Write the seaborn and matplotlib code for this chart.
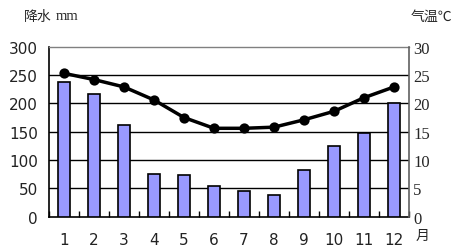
import numpy as np
import pandas as pd
import matplotlib
matplotlib.use("Agg")
import matplotlib.pyplot as plt
import seaborn as sns

months = ["1", "2", "3", "4", "5", "6", "7", "8", "9", "10", "11", "12"]
precip = [238, 217, 161, 76, 74, 55, 45, 39, 82, 124, 147, 201]
temp = [25.3, 24.2, 22.9, 20.6, 17.5, 15.6, 15.6, 15.8, 17.1, 18.6, 21.0, 22.9]
left_ticks = [0, 50, 100, 150, 200, 250, 300]
right_ticks = [0, 5, 10, 15, 20, 25, 30]

sns.set_theme(style="white")
plt.rcParams['font.family'] = ['Liberation Serif', 'Noto Sans CJK SC', 'DejaVu Sans']

W, H = 457, 251
fig = plt.figure(figsize=(W / 100, H / 100), dpi=100)
ax = fig.add_axes([49 / W, 1 - 217.7 / H, 360 / W, 170 / H])

df = pd.DataFrame({"month": months, "precip": precip, "temp": temp})
sns.barplot(data=df, x="month", y="precip", order=months, ax=ax,
            color="#9999FF", saturation=1, width=0.43,
            edgecolor="black", linewidth=1.2, zorder=3)

ax.set_ylim(0, 300)
ax.set_xlim(-0.5, 11.5)
ax.set_yticks(left_ticks)
ax.set_yticklabels([str(t) for t in left_ticks], fontsize=11, family=['DejaVu Sans'], color="#222222")
for t in left_ticks[1:-1]:
    ax.axhline(t, color="black", lw=1.0, zorder=1)
ax.set_xlabel("")
ax.set_ylabel("")
ax.set_xticks(range(len(months)))
ax.set_xticklabels(months, fontsize=11, family=['DejaVu Sans'], color="#222222")
ax.set_xticks(np.arange(-0.5, 12, 1), minor=True)
ax.tick_params(axis="x", which="major", length=0, pad=11)
ax.tick_params(axis="x", which="minor", direction="in", length=4, width=1, color="black", bottom=True)
ax.tick_params(axis="y", length=0, pad=8)
for s in ["left", "bottom"]:
    ax.spines[s].set_color("black")
    ax.spines[s].set_linewidth(1.2)
ax.spines["top"].set_color("#808080")
ax.spines["top"].set_linewidth(1.0)
ax.spines["right"].set_visible(False)

ax2 = ax.twinx()
sns.pointplot(data=df, x="month", y="temp", order=months, ax=ax2,
              color="black", markers="o", markersize=5.5, linewidth=2.5)
ax2.set_ylim(0, 30)
ax2.set_xlim(-0.5, 11.5)
ax2.set_yticks(right_ticks)
ax2.set_yticklabels([str(t) for t in right_ticks], fontsize=12, family=['Liberation Serif'])
ax2.tick_params(axis="y", length=0, pad=3)
ax2.set_ylabel("")
ax2.set_xlabel("")
for s in ["left", "bottom", "top"]:
    ax2.spines[s].set_visible(False)
ax2.spines["right"].set_color("#606060")
ax2.spines["right"].set_linewidth(1.2)

fig.text(24 / W, 1 - 17 / H, "降水", fontsize=10, family=['Noto Sans CJK SC'], va="center", ha="left")
fig.text(56 / W, 1 - 17 / H, "mm", fontsize=10.5, family=['Liberation Serif'], va="center", ha="left")
fig.text(411 / W, 1 - 17 / H, "气温℃", fontsize=10, family=['Noto Sans CJK SC'], va="center", ha="left")
fig.text(416 / W, 1 - 236 / H, "月", fontsize=10, family=['Noto Sans CJK SC'], va="center", ha="left")

fig.savefig("out.png", dpi=100)
